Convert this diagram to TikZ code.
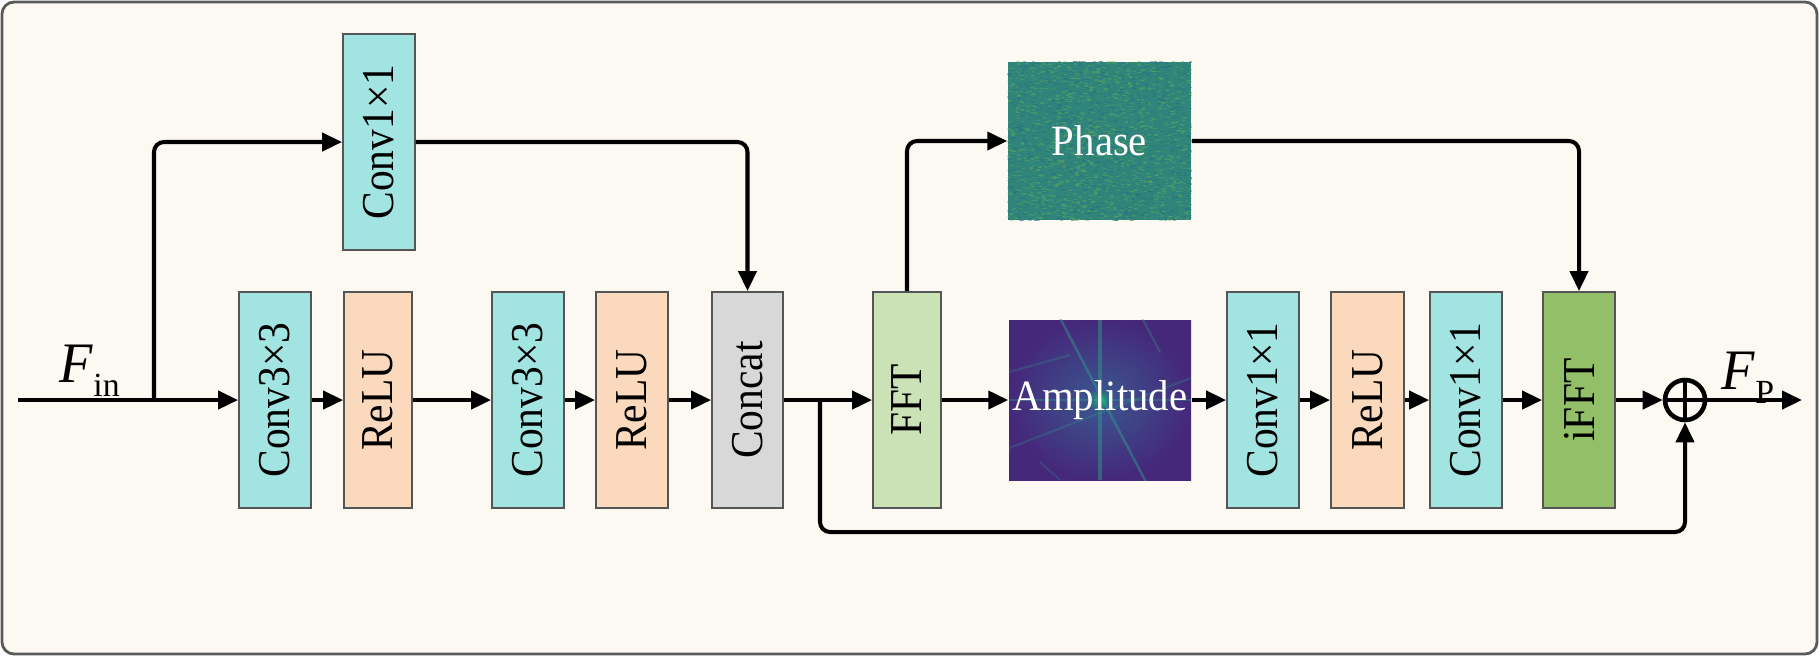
\documentclass[tikz,border=0pt]{standalone}
\usepackage{fontspec}
\setmainfont{Liberation Serif}
\usetikzlibrary{arrows.meta}
\definecolor{bgc}{HTML}{FCF9F2}
\definecolor{framec}{HTML}{5A5A5A}
\definecolor{boxline}{HTML}{555555}
\definecolor{convc}{HTML}{A2E4E1}
\definecolor{reluc}{HTML}{FAD9BD}
\definecolor{catc}{HTML}{D8D8D8}
\definecolor{fftc}{HTML}{CBE2B6}
\definecolor{ifftc}{HTML}{92BF68}
\definecolor{phasec}{HTML}{30857A}
\definecolor{phaseg}{HTML}{5EAA5C}
\definecolor{phaseb}{HTML}{2A6C82}
\definecolor{ampin}{HTML}{3A5890}
\definecolor{ampout}{HTML}{45287A}
\definecolor{ampline}{HTML}{2FA38C}
\newcommand{\vtext}[1]{\rotatebox{90}{\scalebox{1}[1.1]{#1}}}
\begin{document}
\begin{tikzpicture}[x=0.01cm,y=-0.01cm,
  blk/.style={draw=boxline, line width=0.5pt, minimum width=0.72cm, minimum height=2.16cm, inner sep=0pt, font=\fontsize{11.8}{13}\selectfont},
  imgbox/.style={draw=none, inner sep=0pt},
  imgtext/.style={text=white, inner sep=0pt, font=\fontsize{11.6}{13}\selectfont},
  wire/.style={line width=1.15pt},
  conn/.style={line width=1.15pt, -{Triangle[length=0.2cm,width=0.18cm]}},
  rc/.style={rounded corners=0.1cm}]
\useasboundingbox (0,0) rectangle (1819,656);
\draw[fill=bgc, draw=framec, line width=0.8pt, rounded corners=0.12cm] (2,2) rectangle (1817,654);

% blocks
\node[blk, fill=convc] (c0) at (379,142) {\vtext{Conv1×1}};
\node[blk, fill=convc] (c1) at (275,400) {\vtext{Conv3×3}};
\node[blk, fill=reluc, minimum width=0.68cm] (r1) at (378,400) {\vtext{ReLU}};
\node[blk, fill=convc] (c2) at (528,400) {\vtext{Conv3×3}};
\node[blk, fill=reluc] (r2) at (632,400) {\vtext{ReLU}};
\node[blk, fill=catc, minimum width=0.71cm] (cat) at (747.5,400) {\vtext{Concat}};
\node[blk, fill=fftc, minimum width=0.68cm] (fft) at (907,400) {\vtext{FFT}};
\node[blk, fill=convc] (c3) at (1263,400) {\vtext{Conv1×1}};
\node[blk, fill=reluc, minimum width=0.73cm] (r3) at (1367.5,400) {\vtext{ReLU}};
\node[blk, fill=convc] (c4) at (1466,400) {\vtext{Conv1×1}};
\node[blk, fill=ifftc] (ifft) at (1579,400) {\vtext{iFFT}};

% phase image
\node[imgbox, fill=phasec, minimum width=1.83cm, minimum height=1.58cm] (phase) at (1099.5,141) {};
\begin{scope}
\clip (phase.south west) rectangle (phase.north east);
\pgfmathsetseed{7}
\foreach \i in {1,...,1300} {
  \pgfmathsetmacro{\rx}{1006+186*rnd}
  \pgfmathsetmacro{\ry}{60+162*rnd}
  \fill[phaseg, opacity=0.4] (\rx,\ry) rectangle ++(3.5,1.3);
}
\foreach \i in {1,...,1300} {
  \pgfmathsetmacro{\rx}{1006+186*rnd}
  \pgfmathsetmacro{\ry}{60+162*rnd}
  \fill[phaseb, opacity=0.4] (\rx,\ry) rectangle ++(3.5,1.3);
}
\end{scope}
\node[imgtext] (phaset) at (phase) {\scalebox{1}[1.06]{Phase}};

% amplitude image
\node[imgbox, fill=ampout, minimum width=1.82cm, minimum height=1.59cm] (amp) at (1100,400) {};
\begin{scope}
\clip (amp.south west) rectangle (amp.north east);
\shade[inner color=ampin, outer color=ampout] (1009,320) rectangle (1191,480);
\draw[ampline, opacity=0.45, line width=0.9pt] (1100,320) -- (1100,480);
\draw[ampline, opacity=0.35, line width=0.8pt] (1009,400) -- (1191,400);
\draw[ampline, opacity=0.45, line width=0.7pt] (1060,318) -- (1146,482);
\draw[ampline, opacity=0.3, line width=0.6pt] (1142,318) -- (1160,352);
\draw[ampline, opacity=0.25, line width=0.6pt] (1009,448) -- (1191,378);
\draw[ampline, opacity=0.25, line width=0.6pt] (1009,372) -- (1070,355);
\draw[ampline, opacity=0.2, line width=0.6pt] (1040,462) -- (1060,480);
\shade[inner color=green!60!cyan, outer color=ampin, opacity=0.5] (1100,400) circle (12);
\end{scope}
\node[imgtext] (ampt) at (amp) {\scalebox{1}[1.06]{Amplitude}};

% sum node
\node[circle, draw=black, line width=1.3pt, minimum size=0.4cm, inner sep=0pt] (plus) at (1685,400) {};
\draw[line width=1.3pt] (plus.north) -- (plus.south) (plus.west) -- (plus.east);

% helper coordinates
\coordinate (in) at (18,400);
\coordinate (br) at (154,400);
\coordinate (sk) at (820,400);
\coordinate (skb) at (820,532);
\coordinate (out) at (1802,400);

% connectors
\draw[wire] (in) -- (br);
\draw[conn] (br) -- (c1.west);
\draw[conn, rc] (br) |- (c0.west);
\draw[conn, rc] (c0.east) -| (cat.north);
\draw[conn] (c1.east) -- (r1.west);
\draw[conn] (r1.east) -- (c2.west);
\draw[conn] (c2.east) -- (r2.west);
\draw[conn] (r2.east) -- (cat.west);
\draw[wire] (cat.east) -- (sk);
\draw[conn] (sk) -- (fft.west);
\draw[conn, rc] (sk) -- (skb) -| (plus.south);
\draw[conn, rc] (fft.north) |- (phase.west);
\draw[conn] (fft.east) -- (amp.west);
\draw[conn] (amp.east) -- (c3.west);
\draw[conn] (c3.east) -- (r3.west);
\draw[conn] (r3.east) -- (c4.west);
\draw[conn] (c4.east) -- (ifft.west);
\draw[conn, rc] (phase.east) -| (ifft.north);
\draw[conn] (ifft.east) -- (plus.west);
\draw[conn] (plus.east) -- (out);

% labels
\node[anchor=base west, inner sep=0pt] (fin) at (59,382) {\fontsize{15.5}{15.5}\selectfont\scalebox{1}[1.05]{\textit{F}}\raisebox{-4pt}{\fontsize{9.6}{9.6}\selectfont in}};
\node[anchor=base west, inner sep=0pt] (fp) at (1721,389) {\fontsize{15.5}{15.5}\selectfont\scalebox{1}[1.05]{\textit{F}}\raisebox{-4pt}{\fontsize{9.6}{9.6}\selectfont P}};
\end{tikzpicture}
\end{document}
